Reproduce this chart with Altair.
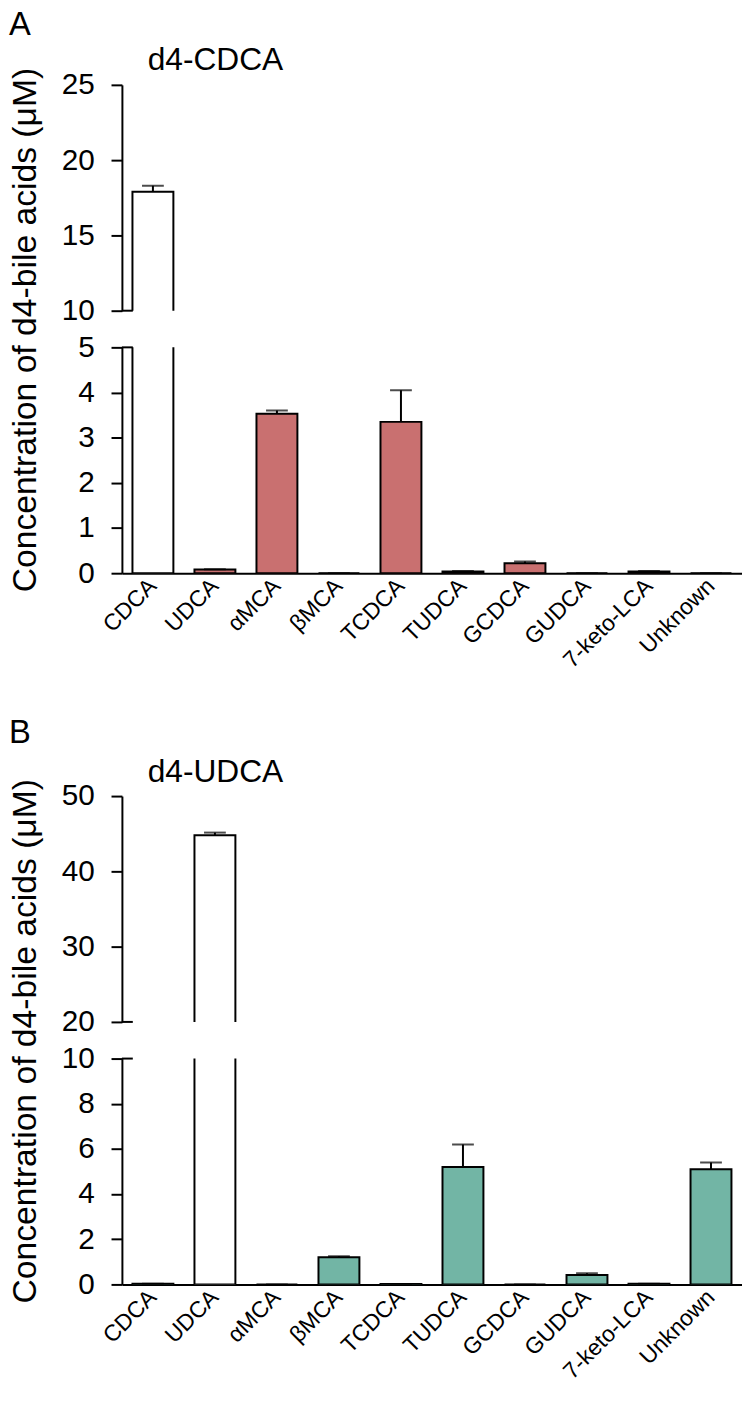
import altair as alt
import pandas as pd

categories = ["CDCA", "UDCA", "αMCA", "βMCA", "TCDCA", "TUDCA", "GCDCA", "GUDCA", "7-keto-LCA", "Unknown"]

a_mean = [17.9, 0.08, 3.53, 0.0, 3.35, 0.04, 0.22, 0.0, 0.04, 0.0]
a_err = [0.4, 0.01, 0.07, 0.0, 0.7, 0.01, 0.04, 0.0, 0.01, 0.0]
a_fill = ["#ffffff", "#c97070", "#c97070", "#c97070", "#c97070",
          "#c97070", "#c97070", "#c97070", "#c97070", "#c97070"]

b_mean = [0.03, 44.8, 0.0, 1.2, 0.02, 5.2, 0.0, 0.42, 0.03, 5.1]
b_err = [0.0, 0.35, 0.0, 0.05, 0.0, 1.0, 0.0, 0.07, 0.0, 0.3]
b_fill = ["#72b5a5", "#ffffff", "#72b5a5", "#72b5a5", "#72b5a5",
          "#72b5a5", "#72b5a5", "#72b5a5", "#72b5a5", "#72b5a5"]

a_upper_ticks = [10, 15, 20, 25]
a_lower_ticks = [0, 1, 2, 3, 4, 5]
b_upper_ticks = [20, 30, 40, 50]
b_lower_ticks = [0, 2, 4, 6, 8, 10]

FONT = "Liberation Sans"
W, H = 626, 228
YTITLE = "Concentration of d4-bile acids (μM)"


def make_df(mean, err, fill):
    return pd.DataFrame({
        "cat": categories,
        "mean": mean,
        "hi": [m + e for m, e in zip(mean, err)],
        "base": [0.0] * len(mean),
        "fill": fill,
    })


def label(text, x, y, size):
    return alt.Chart(pd.DataFrame({"t": [text]})).mark_text(
        align="left", baseline="alphabetic", font=FONT, fontSize=size,
        color="black"
    ).encode(text="t:N", x=alt.value(x), y=alt.value(y))


def segment(df, ticks, upper, letter=None, name=None, letter_y=-50, name_y=-15):
    lo, hi = ticks[0], ticks[-1]
    yscale = alt.Scale(domain=[lo, hi], nice=False, zero=False)
    if upper:
        yaxis = alt.Axis(values=ticks, title=None)
        xaxis = None
    else:
        yaxis = alt.Axis(values=ticks, title=YTITLE, titleX=-87, titleY=-18,
                         titleBaseline="alphabetic", titleFontSize=34,
                         titleFontWeight="normal", titleColor="black")
        xaxis = alt.Axis(title=None, labelAngle=-45, ticks=False,
                         labelAlign="right", labelBaseline="middle",
                         labelPadding=9, labelFontSize=23)
    base = alt.Chart(df).encode(
        x=alt.X("cat:N", sort=categories,
                scale=alt.Scale(paddingInner=0.34, paddingOuter=0.17),
                axis=xaxis)
    )
    bars = base.mark_bar(clip=True, stroke="black", strokeWidth=2).encode(
        y=alt.Y("mean:Q", scale=yscale, axis=yaxis),
        y2=alt.Y2("base:Q"),
        fill=alt.Fill("fill:N", scale=None),
    )
    err_rule = base.mark_rule(clip=True, color="black", strokeWidth=2).encode(
        y="mean:Q", y2="hi:Q"
    )
    err_cap = base.mark_tick(clip=True, color="black", thickness=2, size=22).encode(
        y="hi:Q"
    )
    brk_val = lo if upper else hi
    brk = alt.Chart(pd.DataFrame({"b": [brk_val]})).mark_rule(
        color="black", strokeWidth=2
    ).encode(y="b:Q", x=alt.value(0), x2=alt.value(11))
    layers = [bars, err_rule, err_cap, brk]
    if letter:
        layers.append(label(letter, -114, letter_y, 33))
    if name:
        layers.append(label(name, 26, name_y, 32))
    return alt.layer(*layers).properties(width=W, height=H)


dfA = make_df(a_mean, a_err, a_fill)
dfB = make_df(b_mean, b_err, b_fill)

spacer = alt.Chart(pd.DataFrame({"v": [0]})).mark_point(opacity=0).encode(
    x=alt.value(0), y=alt.value(0)
).properties(width=W, height=151)

chart = alt.vconcat(
    segment(dfA, a_upper_ticks, True, "A", "d4-CDCA", -50, -15),
    segment(dfA, a_lower_ticks, False),
    spacer,
    segment(dfB, b_upper_ticks, True, "B", "d4-UDCA", -54, -14),
    segment(dfB, b_lower_ticks, False),
    spacing=37, bounds="flush",
).properties(
    padding={"left": 0, "top": -5, "right": 0, "bottom": 0}
).configure_view(stroke=None).configure_axis(
    grid=False,
    domainColor="black", domainWidth=2,
    tickColor="black", tickWidth=2, tickSize=11,
    labelColor="black", labelFont=FONT, labelFontSize=30, labelPadding=17,
    titleFont=FONT,
).configure_title(font=FONT)

chart.save("out.html", embed_options={"renderer": "svg", "actions": False})
